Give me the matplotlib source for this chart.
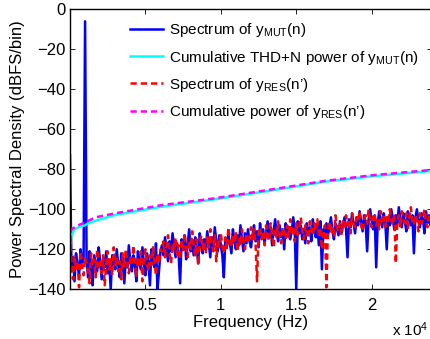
import numpy as np
import matplotlib
matplotlib.use("Agg")
from matplotlib import pyplot as plt

plt.rcParams['font.family'] = ['Liberation Sans', 'DejaVu Sans']
plt.rcParams['mathtext.fontset'] = 'custom'
plt.rcParams['mathtext.rm'] = 'Liberation Sans'
plt.rcParams['mathtext.it'] = 'Liberation Sans:italic'

# frequency bins (Hz), 100 Hz spacing up to Nyquist
freq = np.arange(0, 24001, 100)

# spectrum of y_MUT(n), dBFS/bin (DC bin first)
spec_mut = [-73,
    -131, -124, -136, -122, -128, -133, -120, -127, -125, -6,
    -126, -134, -121, -129, -138, -123, -127, -131, -119, -126,
    -135, -124, -129, -121, -132, -127, -140, -123, -126, -130,
    -120, -128, -134, -122, -127, -137, -124, -129, -118, -126,
    -131, -123, -128, -136, -121, -125, -130, -119, -127, -133,
    -122, -126, -138, -120, -125, -129, -117, -140, -131, -121,
    -118, -123, -114, -120, -126, -116, -121, -112, -119, -124,
    -117, -122, -137, -115, -120, -113, -125, -118, -110, -121,
    -116, -123, -114, -119, -127, -112, -118, -122, -115, -120,
    -111, -117, -124, -114, -119, -109, -116, -121, -113, -118,
    -123, -134, -115, -119, -112, -117, -122, -110, -116, -120,
    -113, -118, -108, -115, -121, -112, -117, -110, -116, -119,
    -113, -108, -116, -111, -119, -107, -114, -110, -117, -112,
    -106, -113, -109, -118, -111, -105, -112, -116, -108, -114,
    -110, -120, -107, -113, -109, -115, -111, -104, -110, -140,
    -106, -112, -108, -115, -110, -117, -107, -113, -109, -116,
    -105, -111, -114, -108, -118, -106, -130, -110, -112, -107,
    -113, -109, -104, -111, -115, -107, -110, -113, -106, -112,
    -108, -104, -110, -124, -105, -109, -102, -107, -112, -104,
    -108, -101, -106, -111, -103, -107, -121, -105, -100, -106,
    -110, -103, -129, -107, -101, -105, -109, -102, -106, -120,
    -104, -108, -100, -105, -110, -103, -107, -99, -105, -109,
    -102, -106, -111, -101, -105, -108, -103, -122, -104, -100,
    -106, -109, -102, -105, -112, -101, -107, -103, -108, -104]

# spectrum of the residual y_RES(n')
spec_res = [-108,
    -128, -135, -123, -130, -126, -139, -121, -129, -133, -124,
    -127, -131, -137, -122, -128, -125, -134, -120, -129, -126,
    -132, -123, -138, -127, -121, -130, -125, -133, -119, -128,
    -124, -131, -126, -135, -122, -129, -120, -127, -132, -123,
    -128, -118, -126, -134, -124, -129, -121, -136, -125, -120,
    -127, -131, -123, -128, -119, -126, -133, -122, -127, -120,
    -121, -116, -124, -119, -113, -122, -127, -117, -120, -114,
    -123, -118, -125, -115, -121, -112, -119, -124, -116, -120,
    -111, -118, -123, -115, -128, -117, -113, -120, -116, -122,
    -114, -119, -110, -117, -121, -113, -126, -115, -119, -112,
    -118, -122, -114, -120, -109, -116, -119, -113, -117, -111,
    -121, -115, -118, -110, -116, -120, -112, -117, -114, -109,
    -115, -110, -117, -136, -112, -109, -115, -111, -118, -108,
    -113, -116, -107, -112, -119, -110, -114, -106, -113, -117,
    -109, -111, -115, -108, -114, -105, -112, -110, -116, -107,
    -113, -109, -104, -111, -115, -108, -112, -117, -106, -110,
    -113, -107, -111, -105, -114, -109, -120, -112, -108, -139,
    -110, -106, -112, -108, -114, -103, -109, -111, -107, -113,
    -106, -110, -103, -108, -105, -112, -102, -107, -109, -104,
    -106, -101, -108, -111, -105, -103, -107, -100, -106, -109,
    -104, -102, -108, -105, -110, -101, -106, -103, -109, -104,
    -107, -100, -105, -108, -102, -127, -106, -103, -109, -101,
    -105, -107, -102, -110, -104, -99, -106, -108, -103, -105,
    -111, -102, -107, -104, -100, -106, -109, -103, -105, -107]

# cumulative THD+N power of y_MUT(n)
cum_mut_f = [0, 100, 300, 600, 1000, 1200, 1700, 3000, 6000, 9600, 13000, 16900, 20000, 24000]
cum_mut = [-118, -113, -110, -108.8, -108, -107, -105.7, -102.8, -98.8, -95, -91, -86.2, -83.5, -80.8]

# cumulative power of y_RES(n')
cum_res_f = [0, 200, 600, 1000, 1700, 3000, 4900, 6000, 9600, 13000, 16900, 20000, 24000]
cum_res = [-111, -109.5, -107.8, -106.5, -104, -102, -99.5, -98, -94.5, -90.5, -85.8, -83, -80.3]

xtick_vals = [5000, 10000, 15000, 20000]
xtick_labels = ['0.5', '1', '1.5', '2']
ytick_vals = [0, -20, -40, -60, -80, -100, -120, -140]

fig = plt.figure(figsize=(4.30, 3.39), dpi=100)
ax = fig.add_axes([70/430, 1 - 289.3/339, 362/430, 280/339])

ax.plot(freq, spec_mut, color='#0000ff', lw=1.8, label=r'Spectrum of y$_{\mathrm{MUT}}$(n)')
ax.plot(cum_mut_f, cum_mut, color='#00ffff', lw=1.8,
        label=r'Cumulative THD+N power of y$_{\mathrm{MUT}}$(n)')
ax.plot(freq, spec_res, color='#ff0000', lw=1.8, ls=(0, (2.5, 1.6)),
        label=r'Spectrum of y$_{\mathrm{RES}}$(n’)')
ax.plot(cum_res_f, cum_res, color='#ff00ff', lw=1.8, ls=(0, (2.5, 1.6)),
        label=r'Cumulative power of y$_{\mathrm{RES}}$(n’)')

ax.set_xlim(0, 24000)
ax.set_ylim(-140, 0)
ax.set_xticks(xtick_vals)
ax.set_xticklabels(xtick_labels)
ax.set_yticks(ytick_vals)
ax.set_yticklabels([str(v).replace('-', '\u2212') for v in ytick_vals])
ax.tick_params(direction='in', top=True, right=True, length=3.5, width=0.6,
               labelsize=12, pad=3)
ax.tick_params(axis='x', pad=6)
for s in ax.spines.values():
    s.set_linewidth(1.0)

ax.set_xlabel('Frequency (Hz)', fontsize=12, labelpad=2)
ax.set_ylabel('Power Spectral Density (dBFS/bin)', fontsize=12, labelpad=2)
fig.text(392/430, 1 - 330/339, r'x 10$^{4}$', fontsize=11, va='center')

ax.legend(loc='upper left', bbox_to_anchor=(0.135, 0.995), frameon=False,
          fontsize=11, handlelength=2.2, handletextpad=0.35, labelspacing=0.6,
          borderpad=0.2)

fig.savefig('out.png', dpi=100)
